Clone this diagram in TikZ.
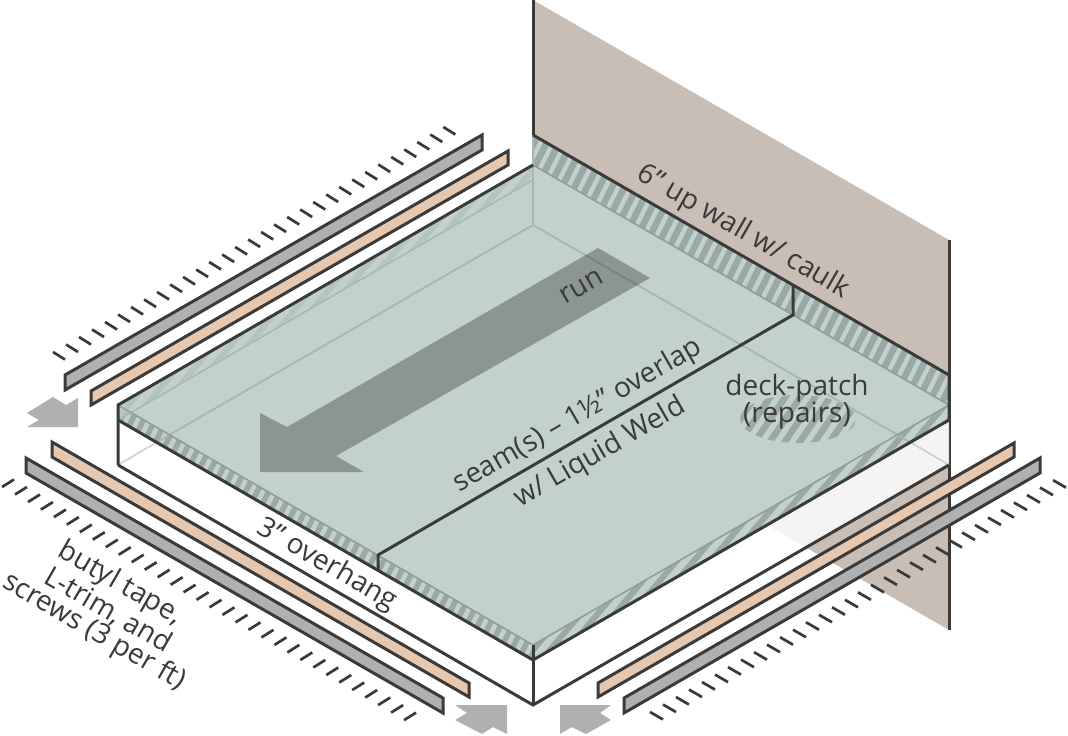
\documentclass[tikz,border=0pt]{standalone}
\usepackage{fontspec}
\setmainfont{Open Sans}
\definecolor{ink}{HTML}{3A3A3A}
\definecolor{wallc}{HTML}{C9BEB5}
\definecolor{memb}{HTML}{C2D1CE}
\definecolor{hatchd}{HTML}{9AA9A6}
\definecolor{hatchf}{HTML}{B4C5C1}
\definecolor{hidn}{HTML}{A8B8B4}
\definecolor{edgeg}{HTML}{8F9E9B}
\definecolor{peach}{HTML}{E6C7AF}
\definecolor{greyb}{HTML}{B0B0B0}
\definecolor{dotl}{HTML}{B5CAC6}
\tikzset{
  darkline/.style={draw=ink,line width=3pt,line join=miter},
  hiddenline/.style={draw=hidn,line width=2pt},
  edgeline/.style={draw=edgeg,line width=1.6pt},
  tick/.style={draw=ink,line width=2.7pt},
  peachstrip/.style={darkline,fill=peach},
  greystrip/.style={darkline,fill=greyb},
  smallarrow/.style={fill=greyb,draw=none},
  finedots/.style={draw=dotl,line width=1.8pt,dash pattern=on 1.4pt off .8pt},
  lab/.style={text=ink,font=\fontsize{28}{32}\selectfont,inner sep=0pt},
}
% clip path, dx over full height, spacing, colour, width
\newcommand{\hatchfill}[5]{%
  \begin{scope}
    \clip #1;
    \pgfmathsetmacro{\hstart}{-900}
    \pgfmathsetmacro{\hnext}{-900+#3}
    \foreach \s in {\hstart,\hnext,...,1500}
      \draw[draw=#4,line width=#5] (\s,736) -- ({\s+#2},0);
  \end{scope}}
\begin{document}
\begin{tikzpicture}[x=1pt,y=-1pt]
\useasboundingbox (0,0) rectangle (1068,736);
\fill[white] (0,0) rectangle (1068,736);
% wall
\fill[wallc] (533,0) -- (949,240) -- (949,630) -- (533,390) -- cycle;
\draw[darkline] (949,240) -- (949,630);
\draw[darkline] (533,0) -- (533,135);
% base box
\fill[white,opacity=.84] (118,405) -- (533,645) -- (949,405) -- (949,465) -- (533,705) -- (118,465) -- cycle;
\draw[finedots] (118,465) -- (157,442);
\draw[finedots] (949,465) -- (910,442);
% membrane
\fill[memb] (533,135) -- (949,375) -- (949,420) -- (533,660) -- (118,420) -- (118,405) -- (533,165) -- cycle;
% hatched folds
\hatchfill{(533,135) -- (949,375) -- (949,405) -- (533,165) -- cycle}{368}{12.5}{hatchd}{6.5pt}
\hatchfill{(118,405) -- (533,645) -- (533,660) -- (118,420) -- cycle}{368}{11.5}{hatchd}{5.5pt}
\hatchfill{(533,645) -- (949,405) -- (949,420) -- (533,660) -- cycle}{625}{17}{hatchd}{6pt}
\hatchfill{(118,405) -- (533,165) -- (533,180) -- (118,420) -- cycle}{625}{17}{hatchf}{6pt}
% deck patch
\hatchfill{(798,419) ellipse [x radius=58,y radius=24]}{500}{15}{hatchd}{6.5pt}
% seen-through edges
\draw[hiddenline] (533,135) -- (533,225);
\draw[hiddenline] (157,442) -- (533,225) -- (910,442);
\draw[draw=hidn,line width=1.6pt] (118,420) -- (533,180);
\draw[edgeline] (533,165) -- (949,405);
\draw[edgeline] (118,405) -- (533,645) -- (949,405);
% run arrow
\fill[black,opacity=.28] (598,248) -- (650,278) -- (336,456) -- (364,472) -- (260,472) -- (260,413) -- (287,427) -- cycle;
% outlines
\draw[darkline] (118,465) -- (118,405) -- (533,165);
\draw[darkline] (533,135) -- (949,375) -- (949,420);
\draw[darkline] (118,420) -- (533,660) -- (949,420);
\draw[darkline] (118,465) -- (533,705) -- (949,465);
\draw[darkline] (533,645) -- (533,705);
% seam
\draw[darkline] (793,285) -- (793,315) -- (378,555) -- (378,570);
% strips
\draw[greystrip] (65,375) -- (482,135) -- (482,150) -- (65,390) -- cycle;
\draw[peachstrip] (91,391) -- (508,151) -- (508,165) -- (91,405) -- cycle;
\draw[peachstrip] (52,442) -- (469,683) -- (469,697) -- (52,457) -- cycle;
\draw[greystrip] (26,458) -- (443,698) -- (443,713) -- (26,473) -- cycle;
\draw[peachstrip] (598,683) -- (1014,443) -- (1014,457) -- (598,697) -- cycle;
\draw[greystrip] (624,698) -- (1040,458) -- (1040,473) -- (624,713) -- cycle;
% ticks
\foreach \i in {0,...,30}
  \draw[tick] ({53+13.01*\i},{352-7.5*\i}) -- ++(12,7.5);
\foreach \i in {0,...,31}
  \draw[tick] ({2+12.97*\i},{487+7.52*\i}) -- ++(12,-7.5);
\foreach \i in {0,...,31}
  \draw[tick] ({650+13*\i},{712-7.48*\i}) -- ++(13,7.5);
% small arrows
\fill[smallarrow] (27,413) -- (53,397) -- (66,405) -- (78,398) -- (78,427) -- (27,427) -- (39,420) -- cycle;
\fill[smallarrow] (455,705) -- (507,705) -- (507,734) -- (493,727) -- (482,734) -- (455,720) -- (467,713) -- cycle;
\fill[smallarrow] (611,705) -- (560,705) -- (560,734) -- (572,727) -- (586,734) -- (611,720) -- (600,713) -- cycle;
% labels
\node[lab,rotate=-30] (wallcaulk) at (743,232) {6" up wall w/ caulk};
\node[lab,rotate=30] (runlab) at (582,287) {run};
\node[lab,rotate=30] (seamlab) at (578,416) {seam(s) – 1½" overlap};
\node[lab,rotate=30] (weldlab) at (600,453) {w/ Liquid Weld};
\node[lab] (decklab) at (797,388) {deck-patch};
\node[lab] (repairlab) at (797,416) {(repairs)};
\node[lab,rotate=-30] (overlab) at (327,565) {3" overhang};
\node[lab,rotate=-30] (butyl) at (120,584) {butyl tape,};
\node[lab,rotate=-30] (ltrim) at (108,610) {L-trim, and};
\node[lab,rotate=-30] (screws) at (94,632) {screws (3 per ft)};
\end{tikzpicture}
\end{document}
